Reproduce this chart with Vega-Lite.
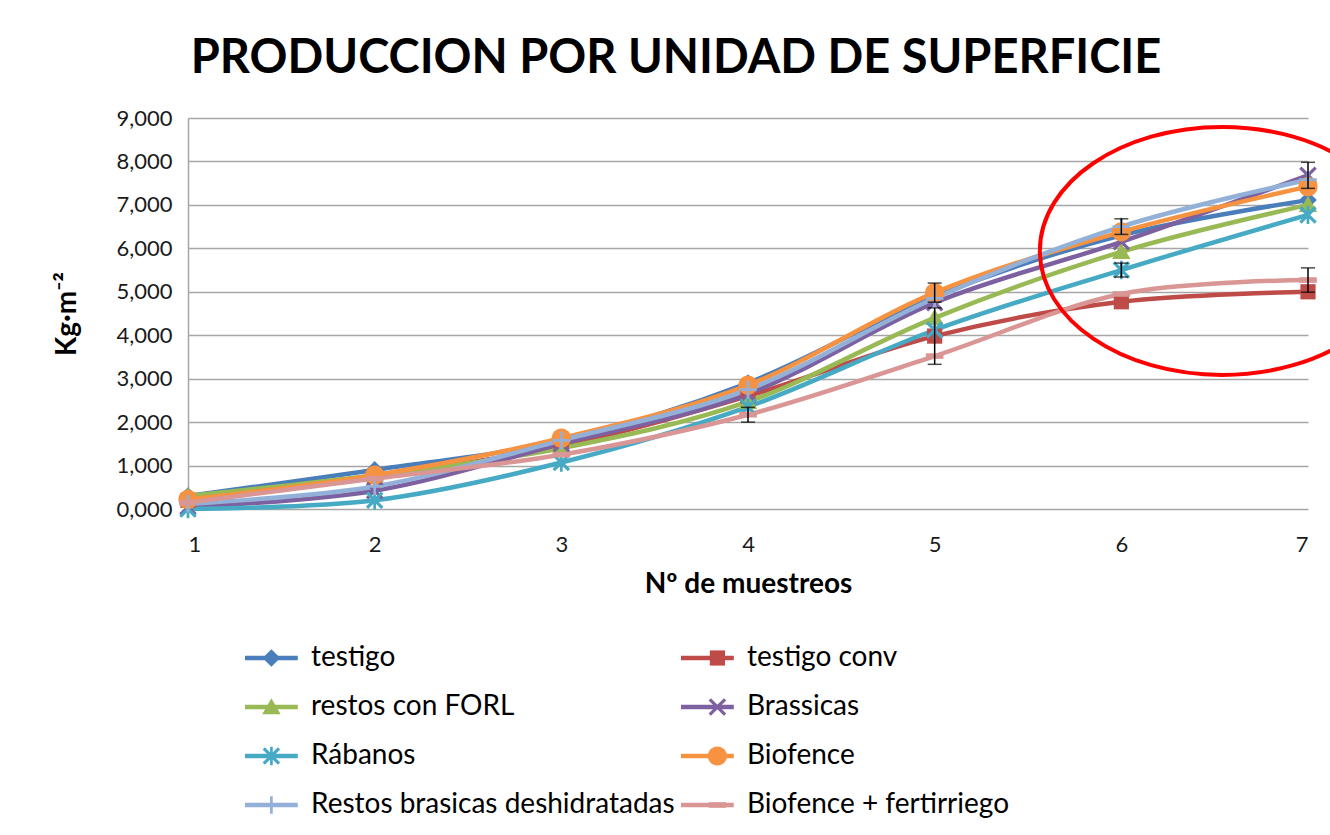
{
  "$schema": "https://vega.github.io/schema/vega-lite/v6.json",
  "width": 1120,
  "height": 391,
  "autosize": {"type": "none"},
  "padding": {"left": 188, "top": 118, "right": 22, "bottom": 326},
  "background": "white",
  "title": {"text": "PRODUCCION POR UNIDAD DE SUPERFICIE", "font": "Lato", "fontSize": 47, "fontWeight": "bold", "color": "#000000", "anchor": "middle", "dx": -72, "offset": 24},
  "config": {"view": {"stroke": null}, "font": "Lato"},
  "datasets": {
    "series": [
      {"serie": "testigo", "muestreo": 1, "valor": 0.30, "err": 0},
      {"serie": "testigo", "muestreo": 2, "valor": 0.90, "err": 0},
      {"serie": "testigo", "muestreo": 3, "valor": 1.58, "err": 0},
      {"serie": "testigo", "muestreo": 4, "valor": 2.90, "err": 0},
      {"serie": "testigo", "muestreo": 5, "valor": 4.90, "err": 0},
      {"serie": "testigo", "muestreo": 6, "valor": 6.30, "err": 0},
      {"serie": "testigo", "muestreo": 7, "valor": 7.11, "err": 0},
      {"serie": "testigo conv", "muestreo": 1, "valor": 0.20, "err": 0},
      {"serie": "testigo conv", "muestreo": 2, "valor": 0.75, "err": 0},
      {"serie": "testigo conv", "muestreo": 3, "valor": 1.45, "err": 0},
      {"serie": "testigo conv", "muestreo": 4, "valor": 2.60, "err": 0},
      {"serie": "testigo conv", "muestreo": 5, "valor": 3.98, "err": 0.65},
      {"serie": "testigo conv", "muestreo": 6, "valor": 4.77, "err": 0},
      {"serie": "testigo conv", "muestreo": 7, "valor": 5.00, "err": 0},
      {"serie": "restos con FORL", "muestreo": 1, "valor": 0.30, "err": 0},
      {"serie": "restos con FORL", "muestreo": 2, "valor": 0.78, "err": 0},
      {"serie": "restos con FORL", "muestreo": 3, "valor": 1.40, "err": 0},
      {"serie": "restos con FORL", "muestreo": 4, "valor": 2.47, "err": 0},
      {"serie": "restos con FORL", "muestreo": 5, "valor": 4.40, "err": 0},
      {"serie": "restos con FORL", "muestreo": 6, "valor": 5.92, "err": 0},
      {"serie": "restos con FORL", "muestreo": 7, "valor": 7.00, "err": 0},
      {"serie": "Brassicas", "muestreo": 1, "valor": 0.05, "err": 0},
      {"serie": "Brassicas", "muestreo": 2, "valor": 0.42, "err": 0},
      {"serie": "Brassicas", "muestreo": 3, "valor": 1.50, "err": 0},
      {"serie": "Brassicas", "muestreo": 4, "valor": 2.65, "err": 0},
      {"serie": "Brassicas", "muestreo": 5, "valor": 4.75, "err": 0},
      {"serie": "Brassicas", "muestreo": 6, "valor": 6.15, "err": 0},
      {"serie": "Brassicas", "muestreo": 7, "valor": 7.68, "err": 0.30},
      {"serie": "Rábanos", "muestreo": 1, "valor": 0.00, "err": 0},
      {"serie": "Rábanos", "muestreo": 2, "valor": 0.20, "err": 0},
      {"serie": "Rábanos", "muestreo": 3, "valor": 1.07, "err": 0},
      {"serie": "Rábanos", "muestreo": 4, "valor": 2.35, "err": 0},
      {"serie": "Rábanos", "muestreo": 5, "valor": 4.12, "err": 0},
      {"serie": "Rábanos", "muestreo": 6, "valor": 5.50, "err": 0.16},
      {"serie": "Rábanos", "muestreo": 7, "valor": 6.77, "err": 0},
      {"serie": "Biofence", "muestreo": 1, "valor": 0.22, "err": 0},
      {"serie": "Biofence", "muestreo": 2, "valor": 0.78, "err": 0},
      {"serie": "Biofence", "muestreo": 3, "valor": 1.63, "err": 0},
      {"serie": "Biofence", "muestreo": 4, "valor": 2.85, "err": 0},
      {"serie": "Biofence", "muestreo": 5, "valor": 4.98, "err": 0.22},
      {"serie": "Biofence", "muestreo": 6, "valor": 6.38, "err": 0},
      {"serie": "Biofence", "muestreo": 7, "valor": 7.42, "err": 0},
      {"serie": "Restos brasicas deshidratadas", "muestreo": 1, "valor": 0.12, "err": 0},
      {"serie": "Restos brasicas deshidratadas", "muestreo": 2, "valor": 0.52, "err": 0},
      {"serie": "Restos brasicas deshidratadas", "muestreo": 3, "valor": 1.58, "err": 0},
      {"serie": "Restos brasicas deshidratadas", "muestreo": 4, "valor": 2.75, "err": 0},
      {"serie": "Restos brasicas deshidratadas", "muestreo": 5, "valor": 4.85, "err": 0},
      {"serie": "Restos brasicas deshidratadas", "muestreo": 6, "valor": 6.50, "err": 0.18},
      {"serie": "Restos brasicas deshidratadas", "muestreo": 7, "valor": 7.58, "err": 0},
      {"serie": "Biofence + fertirriego", "muestreo": 1, "valor": 0.15, "err": 0},
      {"serie": "Biofence + fertirriego", "muestreo": 2, "valor": 0.70, "err": 0},
      {"serie": "Biofence + fertirriego", "muestreo": 3, "valor": 1.25, "err": 0},
      {"serie": "Biofence + fertirriego", "muestreo": 4, "valor": 2.17, "err": 0.17},
      {"serie": "Biofence + fertirriego", "muestreo": 5, "valor": 3.52, "err": 0},
      {"serie": "Biofence + fertirriego", "muestreo": 6, "valor": 4.95, "err": 0},
      {"serie": "Biofence + fertirriego", "muestreo": 7, "valor": 5.27, "err": 0.28}
    ],
    "anotacion": [
      {"muestreo": 6.54, "valor": 5.94}
    ]
  },
  "encoding": {
    "x": {
      "field": "muestreo", "type": "quantitative",
      "scale": {"domain": [1, 7], "nice": false, "zero": false},
      "axis": {
        "title": "Nº de muestreos", "titleFont": "Lato", "titleFontSize": 28, "titleFontWeight": "bold", "titleColor": "#000000",
        "titlePadding": 15,
        "labelFont": "Lato", "labelFontSize": 22, "labelColor": "#1a1a1a", "labelPadding": 25,
        "ticks": false, "tickSize": 0, "grid": false, "domain": false,
        "values": [1, 2, 3, 4, 5, 6, 7], "format": "d"
      }
    },
    "y": {
      "field": "valor", "type": "quantitative",
      "scale": {"domain": [0, 9], "nice": false},
      "axis": {
        "title": "Kg·m⁻²", "titleFont": "Lato", "titleFontSize": 28, "titleFontWeight": "bold", "titleColor": "#000000",
        "titlePadding": 34,
        "labelFont": "Lato", "labelFontSize": 22, "labelColor": "#1a1a1a", "labelPadding": 16,
        "values": [0, 1, 2, 3, 4, 5, 6, 7, 8, 9],
        "labelExpr": "replace(format(datum.value, '.3f'), '.', ',')",
        "ticks": false, "tickSize": 0,
        "grid": true, "gridColor": "#A6A6A6", "gridWidth": 1.5,
        "domain": true, "domainColor": "#A6A6A6", "domainWidth": 1.5
      }
    }
  },
  "layer": [
    {
      "data": {"name": "series"},
      "mark": {"type": "line", "interpolate": "cardinal", "strokeWidth": 4.5, "strokeCap": "round"},
      "encoding": {
        "color": {
          "field": "serie", "type": "nominal",
          "scale": {
            "domain": ["testigo", "testigo conv", "restos con FORL", "Brassicas", "Rábanos", "Biofence", "Restos brasicas deshidratadas", "Biofence + fertirriego"],
            "range": ["#4A7EBB", "#BE4B48", "#98B954", "#7D60A0", "#46AAC5", "#F69240", "#93B1D8", "#DA9694"]
          },
          "legend": {
            "orient": "none", "legendX": 51, "legendY": 526,
            "direction": "horizontal", "columns": 2, "title": null,
            "symbolType": "M-1,0H5.6", "symbolSize": 256, "symbolStrokeWidth": 4.5,
            "labelFont": "Lato", "labelFontSize": 28, "labelColor": "#000000",
            "labelOffset": 44, "rowPadding": 21, "columnPadding": -5, "padding": 0, "labelLimit": 0
          }
        }
      }
    },
    {
      "data": {"name": "series"},
      "mark": {"type": "point", "filled": true, "opacity": 1, "size": 256, "strokeWidth": 0},
      "encoding": {
        "fill": {
          "field": "serie", "type": "nominal",
          "scale": {
            "domain": ["testigo", "testigo conv", "restos con FORL", "Brassicas", "Rábanos", "Biofence", "Restos brasicas deshidratadas", "Biofence + fertirriego", "_"],
            "range": ["#4A7EBB", "#BE4B48", "#98B954", "#7D60A0", "#46AAC5", "#F69240", "#93B1D8", "#DA9694", "#000000"]
          },
          "legend": {
            "orient": "none", "legendX": 69.4, "legendY": 526,
            "direction": "horizontal", "columns": 2, "title": null,
            "values": ["testigo", "testigo conv", "restos con FORL", "Brassicas", "Rábanos", "Biofence", "Restos brasicas deshidratadas", "Biofence + fertirriego"],
            "symbolSize": 256, "symbolStrokeWidth": 0, "symbolOpacity": 1,
            "labelExpr": "''", "labelFont": "Lato", "labelFontSize": 28,
            "labelOffset": 44, "rowPadding": 21, "columnPadding": 374, "padding": 0, "labelLimit": 0
          }
        },
        "shape": {
          "field": "serie", "type": "nominal",
          "scale": {
            "domain": ["testigo", "testigo conv", "restos con FORL", "Brassicas", "Rábanos", "Biofence", "Restos brasicas deshidratadas", "Biofence + fertirriego", "_"],
            "range": [
              "M0,-1.1L1.1,0L0,1.1L-1.1,0Z",
              "M-0.95,-0.95H0.95V0.95H-0.95Z",
              "M0,-1.1L1.15,0.9H-1.15Z",
              "M0.813,-1.096L1.096,-0.813L0.283,0L1.096,0.813L0.813,1.096L0,0.283L-0.813,1.096L-1.096,0.813L-0.283,0L-1.096,-0.813L-0.813,-1.096L0,-0.283Z",
              "M0.813,-1.096L1.096,-0.813L0.283,0L1.096,0.813L0.813,1.096L0,0.283L-0.813,1.096L-1.096,0.813L-0.283,0L-1.096,-0.813L-0.813,-1.096L0,-0.283ZM-0.17,-1.15H0.17V1.15H-0.17Z",
              "M1.2,0A1.2,1.2 0 1,1 -1.2,0A1.2,1.2 0 1,1 1.2,0Z",
              "M-0.17,-1.1H0.17V-0.17H1.1V0.17H0.17V1.1H-0.17V0.17H-1.1V-0.17H-0.17Z",
              "M-1.1,-0.35H1.1V0.35H-1.1Z",
              "circle"
            ]
          },
          "legend": {
            "orient": "none", "legendX": 69.4, "legendY": 526,
            "direction": "horizontal", "columns": 2, "title": null,
            "values": ["testigo", "testigo conv", "restos con FORL", "Brassicas", "Rábanos", "Biofence", "Restos brasicas deshidratadas", "Biofence + fertirriego"],
            "symbolSize": 256, "symbolStrokeWidth": 0, "symbolOpacity": 1,
            "labelExpr": "''", "labelFont": "Lato", "labelFontSize": 28,
            "labelOffset": 44, "rowPadding": 21, "columnPadding": 374, "padding": 0, "labelLimit": 0
          }
        }
      }
    },
    {
      "data": {"name": "series"},
      "transform": [{"filter": "datum.err > 0"}],
      "mark": {"type": "errorbar", "ticks": true, "color": "#000000", "thickness": 1.5, "size": 14},
      "encoding": {
        "y": {"field": "valor", "type": "quantitative"},
        "yError": {"field": "err"}
      }
    },
    {
      "data": {"name": "anotacion"},
      "mark": {"type": "point", "shape": "M1.47,0A1.47,1 0 1,1 -1.47,0A1.47,1 0 1,1 1.47,0Z", "size": 61504, "filled": false, "stroke": "#FF0000", "strokeWidth": 4, "opacity": 1},
      "encoding": {}
    }
  ]
}
